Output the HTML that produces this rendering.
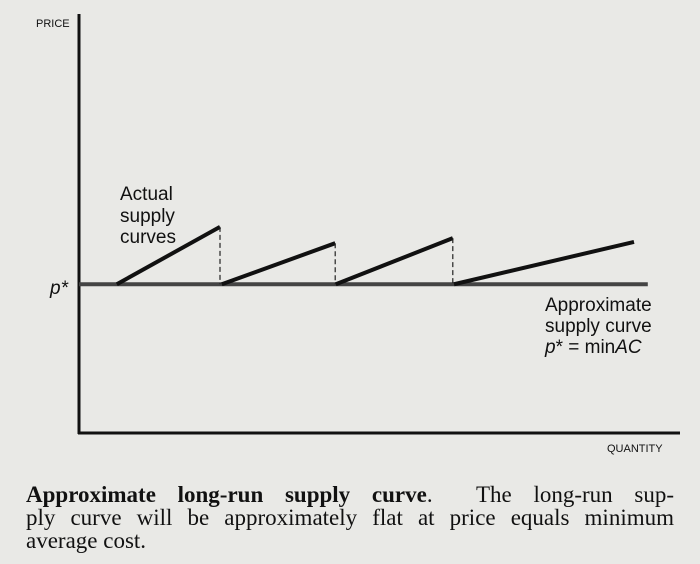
<!DOCTYPE html>
<html><head><meta charset="utf-8"><style>
body{margin:0;background:#e9e9e6;}
#wrap{position:relative;width:700px;height:564px;overflow:hidden;background:#e9e9e6;}
svg{position:absolute;left:0;top:0;}
#caption{position:absolute;left:26px;top:483px;width:648px;font-family:"Liberation Serif",serif;font-size:23px;line-height:23px;color:#111;}
.ln{display:block;text-align:justify;text-align-last:justify;white-space:nowrap;height:23px;}
.ln.last{text-align-last:left;}
</style></head><body>
<div id="wrap">
<svg id="chart" width="700" height="470" font-family="Liberation Sans, sans-serif" fill="#111"></svg>
<div id="caption">
<span class="ln" style="white-space:normal"><b>Approximate long-run supply curve</b>. &nbsp;The long-run sup-</span>
<span class="ln" style="white-space:normal">ply curve will be approximately flat at price equals minimum</span>
<span class="ln last">average cost.</span>
</div>
</div>
<script>
const segStartQ=[6.3,23.8,42.8,62.5];
const segEndQ=[23.5,42.7,62.3,92.5];
const segEndP=[49.2,45.3,46.5,45.6];
const pStar=35.5;
const pStarEndQ=94.8;
const NS='http://www.w3.org/2000/svg';
const svg=document.getElementById('chart');
const xS=q=>79+q*6;
const yS=p=>433-p*4.19;
function mk(tag,attrs){const e=document.createElementNS(NS,tag);for(const k in attrs)e.setAttribute(k,attrs[k]);svg.appendChild(e);return e;}
let e;
e=mk('line',{x1:79,y1:14,x2:79,y2:434,stroke:'#111','stroke-width':3});


e=mk('line',{x1:78,y1:433,x2:680,y2:433,stroke:'#111','stroke-width':3});


e=mk('line',{x1:xS(0),y1:yS(pStar),x2:xS(pStarEndQ),y2:yS(pStar),stroke:'#444','stroke-width':4});


for(let i=0;i<segStartQ.length;i++){
 e=mk('line',{x1:xS(segStartQ[i]),y1:yS(pStar),x2:xS(segEndQ[i]),y2:yS(segEndP[i]),stroke:'#111','stroke-width':4});
 
 
 if(i<segStartQ.length-1){
  e=mk('line',{x1:xS(segEndQ[i]),y1:yS(segEndP[i]),x2:xS(segEndQ[i]),y2:yS(pStar),stroke:'#222','stroke-width':1.2,'stroke-dasharray':'5,3'});
  
  
 }
}
function txt(x,y,s,size,name,style){const t=mk('text',{x:x,y:y,'font-size':size});if(style)t.setAttribute('font-style',style);t.innerHTML=s;return t;}
txt(36,27,'PRICE',11,'y-axis-title');
txt(607,452,'QUANTITY',11,'x-axis-title');
txt(50,294,'p*',19,'p-star-label','italic');
txt(120,200,'Actual',19,'actual-label-1');
txt(120,222,'supply',19,'actual-label-2');
txt(120,243,'curves',19,'actual-label-3');
txt(545,311,'Approximate',19,'approx-label-1');
txt(545,332,'supply curve',19,'approx-label-2');
txt(545,353,'<tspan font-style="italic">p</tspan>* = min<tspan font-style="italic">AC</tspan>',19,'approx-label-3');
</script>
</body></html>
